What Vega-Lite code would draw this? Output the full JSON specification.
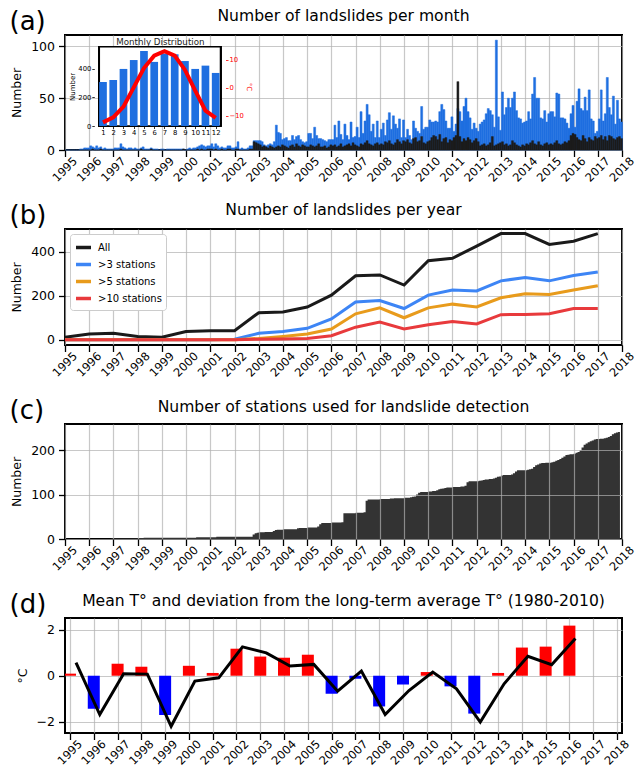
{
  "$schema": "https://vega.github.io/schema/vega-lite/v6.json",
  "background": "white",
  "padding": {"left": 8, "top": 7, "right": 0, "bottom": 0},
  "config": {
    "font": "DejaVu Sans",
    "view": {"stroke": "#000000", "strokeWidth": 2},
    "axis": {"domain": false, "labelFont": "DejaVu Sans", "labelFontSize": 12.5, "labelColor": "#000000", "tickColor": "#000000", "tickSize": 6.5, "tickWidth": 1.3, "labelPadding": 4, "gridColor": "#b0b0b0", "gridOpacity": 0.7, "gridWidth": 1.2, "titleFont": "DejaVu Sans", "titleFontWeight": "normal", "titleFontSize": 12.5, "titleColor": "#000000", "titlePadding": 7, "labelFlush": false, "labelOverlap": false},
    "axisX": {"labelAngle": -45},
    "title": {"font": "DejaVu Sans", "fontSize": 15.6, "fontWeight": "normal", "color": "#000000"},
    "legend": {"labelFont": "DejaVu Sans"}
  },
  "datasets": {
    "monthly": [
      {"date":"1995-01-01","all":0,"big":0,"stations":0},{"date":"1995-02-01","all":0,"big":0,"stations":0},{"date":"1995-03-01","all":0,"big":0,"stations":0},{"date":"1995-04-01","all":0,"big":0,"stations":0},{"date":"1995-05-01","all":0,"big":0,"stations":0},{"date":"1995-06-01","all":0,"big":0,"stations":0},{"date":"1995-07-01","all":0,"big":0,"stations":0},{"date":"1995-08-01","all":1,"big":0,"stations":0},{"date":"1995-09-01","all":1,"big":0,"stations":0},{"date":"1995-10-01","all":2,"big":0,"stations":0},{"date":"1995-11-01","all":2,"big":0,"stations":0},{"date":"1995-12-01","all":2,"big":0,"stations":0},
      {"date":"1996-01-01","all":4,"big":0,"stations":0},{"date":"1996-02-01","all":3,"big":1,"stations":0},{"date":"1996-03-01","all":2,"big":0,"stations":0},{"date":"1996-04-01","all":4,"big":0,"stations":0},{"date":"1996-05-01","all":2,"big":0,"stations":0},{"date":"1996-06-01","all":3,"big":1,"stations":0},{"date":"1996-07-01","all":1,"big":0,"stations":0},{"date":"1996-08-01","all":2,"big":0,"stations":0},{"date":"1996-09-01","all":1,"big":0,"stations":0},{"date":"1996-10-01","all":1,"big":0,"stations":0},{"date":"1996-11-01","all":1,"big":0,"stations":0},{"date":"1996-12-01","all":1,"big":0,"stations":1},
      {"date":"1997-01-01","all":2,"big":0,"stations":1},{"date":"1997-02-01","all":2,"big":0,"stations":1},{"date":"1997-03-01","all":2,"big":0,"stations":1},{"date":"1997-04-01","all":6,"big":1,"stations":1},{"date":"1997-05-01","all":3,"big":0,"stations":1},{"date":"1997-06-01","all":2,"big":0,"stations":1},{"date":"1997-07-01","all":1,"big":0,"stations":1},{"date":"1997-08-01","all":2,"big":0,"stations":1},{"date":"1997-09-01","all":2,"big":0,"stations":1},{"date":"1997-10-01","all":1,"big":0,"stations":1},{"date":"1997-11-01","all":2,"big":0,"stations":1},{"date":"1997-12-01","all":1,"big":0,"stations":1},
      {"date":"1998-01-01","all":1,"big":0,"stations":2},{"date":"1998-02-01","all":2,"big":1,"stations":2},{"date":"1998-03-01","all":3,"big":0,"stations":2},{"date":"1998-04-01","all":1,"big":0,"stations":3},{"date":"1998-05-01","all":1,"big":0,"stations":3},{"date":"1998-06-01","all":1,"big":0,"stations":3},{"date":"1998-07-01","all":2,"big":1,"stations":3},{"date":"1998-08-01","all":1,"big":0,"stations":3},{"date":"1998-09-01","all":1,"big":0,"stations":3},{"date":"1998-10-01","all":1,"big":0,"stations":3},{"date":"1998-11-01","all":0,"big":0,"stations":3},{"date":"1998-12-01","all":1,"big":0,"stations":3},
      {"date":"1999-01-01","all":1,"big":0,"stations":3},{"date":"1999-02-01","all":0,"big":0,"stations":3},{"date":"1999-03-01","all":1,"big":0,"stations":3},{"date":"1999-04-01","all":1,"big":0,"stations":3},{"date":"1999-05-01","all":1,"big":0,"stations":3},{"date":"1999-06-01","all":1,"big":0,"stations":3},{"date":"1999-07-01","all":1,"big":0,"stations":3},{"date":"1999-08-01","all":1,"big":0,"stations":3},{"date":"1999-09-01","all":1,"big":0,"stations":3},{"date":"1999-10-01","all":1,"big":0,"stations":3},{"date":"1999-11-01","all":1,"big":1,"stations":3},{"date":"1999-12-01","all":0,"big":0,"stations":3},
      {"date":"2000-01-01","all":1,"big":0,"stations":3},{"date":"2000-02-01","all":2,"big":0,"stations":3},{"date":"2000-03-01","all":1,"big":0,"stations":3},{"date":"2000-04-01","all":2,"big":0,"stations":3},{"date":"2000-05-01","all":2,"big":0,"stations":3},{"date":"2000-06-01","all":3,"big":1,"stations":4},{"date":"2000-07-01","all":4,"big":0,"stations":4},{"date":"2000-08-01","all":5,"big":1,"stations":4},{"date":"2000-09-01","all":4,"big":0,"stations":4},{"date":"2000-10-01","all":3,"big":0,"stations":4},{"date":"2000-11-01","all":4,"big":1,"stations":4},{"date":"2000-12-01","all":4,"big":1,"stations":4},
      {"date":"2001-01-01","all":6,"big":1,"stations":4},{"date":"2001-02-01","all":3,"big":0,"stations":4},{"date":"2001-03-01","all":6,"big":1,"stations":4},{"date":"2001-04-01","all":4,"big":0,"stations":5},{"date":"2001-05-01","all":2,"big":0,"stations":5},{"date":"2001-06-01","all":3,"big":1,"stations":5},{"date":"2001-07-01","all":2,"big":0,"stations":5},{"date":"2001-08-01","all":2,"big":0,"stations":5},{"date":"2001-09-01","all":4,"big":1,"stations":5},{"date":"2001-10-01","all":4,"big":1,"stations":5},{"date":"2001-11-01","all":2,"big":0,"stations":5},{"date":"2001-12-01","all":2,"big":0,"stations":5},
      {"date":"2002-01-01","all":3,"big":1,"stations":5},{"date":"2002-02-01","all":8,"big":1,"stations":5},{"date":"2002-03-01","all":1,"big":0,"stations":5},{"date":"2002-04-01","all":2,"big":0,"stations":5},{"date":"2002-05-01","all":1,"big":0,"stations":5},{"date":"2002-06-01","all":1,"big":0,"stations":5},{"date":"2002-07-01","all":2,"big":0,"stations":5},{"date":"2002-08-01","all":4,"big":1,"stations":5},{"date":"2002-09-01","all":4,"big":1,"stations":5},{"date":"2002-10-01","all":9,"big":8,"stations":10},{"date":"2002-11-01","all":9,"big":7,"stations":13},{"date":"2002-12-01","all":9,"big":6,"stations":14},
      {"date":"2003-01-01","all":9,"big":5,"stations":15},{"date":"2003-02-01","all":8,"big":3,"stations":15},{"date":"2003-03-01","all":5,"big":4,"stations":15},{"date":"2003-04-01","all":4,"big":3,"stations":16},{"date":"2003-05-01","all":5,"big":2,"stations":16},{"date":"2003-06-01","all":6,"big":4,"stations":16},{"date":"2003-07-01","all":5,"big":3,"stations":16},{"date":"2003-08-01","all":8,"big":2,"stations":18},{"date":"2003-09-01","all":24,"big":3,"stations":20},{"date":"2003-10-01","all":17,"big":4,"stations":21},{"date":"2003-11-01","all":16,"big":3,"stations":21},{"date":"2003-12-01","all":10,"big":5,"stations":21},
      {"date":"2004-01-01","all":11,"big":4,"stations":22},{"date":"2004-02-01","all":12,"big":3,"stations":22},{"date":"2004-03-01","all":9,"big":2,"stations":22},{"date":"2004-04-01","all":9,"big":4,"stations":22},{"date":"2004-05-01","all":14,"big":5,"stations":22},{"date":"2004-06-01","all":10,"big":3,"stations":22},{"date":"2004-07-01","all":13,"big":6,"stations":22},{"date":"2004-08-01","all":14,"big":4,"stations":24},{"date":"2004-09-01","all":10,"big":3,"stations":25},{"date":"2004-10-01","all":8,"big":5,"stations":25},{"date":"2004-11-01","all":7,"big":4,"stations":25},{"date":"2004-12-01","all":8,"big":3,"stations":25},
      {"date":"2005-01-01","all":16,"big":3,"stations":26},{"date":"2005-02-01","all":16,"big":5,"stations":26},{"date":"2005-03-01","all":11,"big":4,"stations":26},{"date":"2005-04-01","all":22,"big":3,"stations":26},{"date":"2005-05-01","all":14,"big":4,"stations":26},{"date":"2005-06-01","all":11,"big":6,"stations":28},{"date":"2005-07-01","all":11,"big":3,"stations":33},{"date":"2005-08-01","all":10,"big":3,"stations":36},{"date":"2005-09-01","all":9,"big":4,"stations":36},{"date":"2005-10-01","all":8,"big":2,"stations":36},{"date":"2005-11-01","all":10,"big":3,"stations":36},{"date":"2005-12-01","all":10,"big":5,"stations":36},
      {"date":"2006-01-01","all":10,"big":4,"stations":37},{"date":"2006-02-01","all":24,"big":5,"stations":37},{"date":"2006-03-01","all":12,"big":3,"stations":37},{"date":"2006-04-01","all":28,"big":4,"stations":37},{"date":"2006-05-01","all":15,"big":6,"stations":37},{"date":"2006-06-01","all":10,"big":3,"stations":38},{"date":"2006-07-01","all":25,"big":4,"stations":58},{"date":"2006-08-01","all":14,"big":5,"stations":58},{"date":"2006-09-01","all":10,"big":6,"stations":58},{"date":"2006-10-01","all":27,"big":4,"stations":58},{"date":"2006-11-01","all":12,"big":7,"stations":58},{"date":"2006-12-01","all":13,"big":5,"stations":58},
      {"date":"2007-01-01","all":22,"big":4,"stations":59},{"date":"2007-02-01","all":12,"big":3,"stations":59},{"date":"2007-03-01","all":37,"big":6,"stations":59},{"date":"2007-04-01","all":16,"big":5,"stations":59},{"date":"2007-05-01","all":28,"big":7,"stations":60},{"date":"2007-06-01","all":44,"big":9,"stations":86},{"date":"2007-07-01","all":34,"big":6,"stations":89},{"date":"2007-08-01","all":18,"big":5,"stations":89},{"date":"2007-09-01","all":25,"big":4,"stations":89},{"date":"2007-10-01","all":12,"big":6,"stations":89},{"date":"2007-11-01","all":28,"big":7,"stations":89},{"date":"2007-12-01","all":12,"big":5,"stations":89},
      {"date":"2008-01-01","all":20,"big":6,"stations":90},{"date":"2008-02-01","all":26,"big":5,"stations":90},{"date":"2008-03-01","all":14,"big":8,"stations":90},{"date":"2008-04-01","all":29,"big":7,"stations":90},{"date":"2008-05-01","all":36,"big":9,"stations":90},{"date":"2008-06-01","all":20,"big":6,"stations":91},{"date":"2008-07-01","all":33,"big":5,"stations":91},{"date":"2008-08-01","all":25,"big":7,"stations":92},{"date":"2008-09-01","all":21,"big":10,"stations":92},{"date":"2008-10-01","all":30,"big":8,"stations":92},{"date":"2008-11-01","all":12,"big":6,"stations":92},{"date":"2008-12-01","all":29,"big":9,"stations":92},
      {"date":"2009-01-01","all":12,"big":8,"stations":93},{"date":"2009-02-01","all":20,"big":10,"stations":93},{"date":"2009-03-01","all":14,"big":7,"stations":93},{"date":"2009-04-01","all":10,"big":6,"stations":94},{"date":"2009-05-01","all":28,"big":11,"stations":95},{"date":"2009-06-01","all":21,"big":12,"stations":96},{"date":"2009-07-01","all":18,"big":8,"stations":100},{"date":"2009-08-01","all":16,"big":9,"stations":104},{"date":"2009-09-01","all":42,"big":13,"stations":106},{"date":"2009-10-01","all":20,"big":7,"stations":106},{"date":"2009-11-01","all":22,"big":6,"stations":106},{"date":"2009-12-01","all":22,"big":8,"stations":106},
      {"date":"2010-01-01","all":29,"big":9,"stations":107},{"date":"2010-02-01","all":27,"big":12,"stations":107},{"date":"2010-03-01","all":27,"big":14,"stations":108},{"date":"2010-04-01","all":28,"big":13,"stations":108},{"date":"2010-05-01","all":27,"big":10,"stations":110},{"date":"2010-06-01","all":37,"big":15,"stations":112},{"date":"2010-07-01","all":44,"big":8,"stations":113},{"date":"2010-08-01","all":39,"big":11,"stations":114},{"date":"2010-09-01","all":28,"big":12,"stations":115},{"date":"2010-10-01","all":21,"big":7,"stations":116},{"date":"2010-11-01","all":21,"big":10,"stations":116},{"date":"2010-12-01","all":32,"big":9,"stations":116},
      {"date":"2011-01-01","all":18,"big":12,"stations":117},{"date":"2011-02-01","all":25,"big":14,"stations":117},{"date":"2011-03-01","all":40,"big":66,"stations":117},{"date":"2011-04-01","all":37,"big":13,"stations":117},{"date":"2011-05-01","all":28,"big":8,"stations":118},{"date":"2011-06-01","all":42,"big":11,"stations":118},{"date":"2011-07-01","all":50,"big":9,"stations":120},{"date":"2011-08-01","all":37,"big":12,"stations":128},{"date":"2011-09-01","all":31,"big":10,"stations":130},{"date":"2011-10-01","all":20,"big":7,"stations":130},{"date":"2011-11-01","all":26,"big":9,"stations":130},{"date":"2011-12-01","all":21,"big":11,"stations":130},
      {"date":"2012-01-01","all":18,"big":8,"stations":130},{"date":"2012-02-01","all":25,"big":4,"stations":131},{"date":"2012-03-01","all":27,"big":5,"stations":132},{"date":"2012-04-01","all":29,"big":6,"stations":133},{"date":"2012-05-01","all":35,"big":4,"stations":134},{"date":"2012-06-01","all":40,"big":5,"stations":134},{"date":"2012-07-01","all":38,"big":7,"stations":135},{"date":"2012-08-01","all":34,"big":13,"stations":135},{"date":"2012-09-01","all":22,"big":4,"stations":136},{"date":"2012-10-01","all":106,"big":5,"stations":138},{"date":"2012-11-01","all":32,"big":6,"stations":140},{"date":"2012-12-01","all":19,"big":7,"stations":141},
      {"date":"2013-01-01","all":56,"big":8,"stations":143},{"date":"2013-02-01","all":34,"big":5,"stations":144},{"date":"2013-03-01","all":41,"big":6,"stations":144},{"date":"2013-04-01","all":50,"big":4,"stations":144},{"date":"2013-05-01","all":41,"big":5,"stations":144},{"date":"2013-06-01","all":50,"big":9,"stations":145},{"date":"2013-07-01","all":56,"big":7,"stations":148},{"date":"2013-08-01","all":38,"big":5,"stations":152},{"date":"2013-09-01","all":31,"big":4,"stations":155},{"date":"2013-10-01","all":30,"big":3,"stations":155},{"date":"2013-11-01","all":26,"big":5,"stations":155},{"date":"2013-12-01","all":27,"big":4,"stations":155},
      {"date":"2014-01-01","all":28,"big":6,"stations":155},{"date":"2014-02-01","all":37,"big":5,"stations":156},{"date":"2014-03-01","all":30,"big":7,"stations":157},{"date":"2014-04-01","all":54,"big":9,"stations":158},{"date":"2014-05-01","all":70,"big":6,"stations":162},{"date":"2014-06-01","all":50,"big":5,"stations":166},{"date":"2014-07-01","all":50,"big":8,"stations":168},{"date":"2014-08-01","all":31,"big":5,"stations":170},{"date":"2014-09-01","all":30,"big":4,"stations":171},{"date":"2014-10-01","all":38,"big":6,"stations":171},{"date":"2014-11-01","all":27,"big":7,"stations":172},{"date":"2014-12-01","all":35,"big":5,"stations":172},
      {"date":"2015-01-01","all":37,"big":6,"stations":172},{"date":"2015-02-01","all":37,"big":5,"stations":173},{"date":"2015-03-01","all":32,"big":7,"stations":174},{"date":"2015-04-01","all":55,"big":9,"stations":176},{"date":"2015-05-01","all":54,"big":6,"stations":178},{"date":"2015-06-01","all":31,"big":5,"stations":180},{"date":"2015-07-01","all":31,"big":6,"stations":183},{"date":"2015-08-01","all":30,"big":8,"stations":186},{"date":"2015-09-01","all":26,"big":7,"stations":189},{"date":"2015-10-01","all":21,"big":9,"stations":190},{"date":"2015-11-01","all":35,"big":14,"stations":191},{"date":"2015-12-01","all":43,"big":16,"stations":191},
      {"date":"2016-01-01","all":22,"big":15,"stations":192},{"date":"2016-02-01","all":47,"big":12,"stations":194},{"date":"2016-03-01","all":59,"big":10,"stations":196},{"date":"2016-04-01","all":40,"big":9,"stations":200},{"date":"2016-05-01","all":38,"big":14,"stations":206},{"date":"2016-06-01","all":51,"big":11,"stations":212},{"date":"2016-07-01","all":38,"big":8,"stations":215},{"date":"2016-08-01","all":58,"big":12,"stations":218},{"date":"2016-09-01","all":30,"big":10,"stations":220},{"date":"2016-10-01","all":28,"big":9,"stations":222},{"date":"2016-11-01","all":16,"big":13,"stations":224},{"date":"2016-12-01","all":18,"big":11,"stations":225},
      {"date":"2017-01-01","all":30,"big":12,"stations":225},{"date":"2017-02-01","all":58,"big":14,"stations":226},{"date":"2017-03-01","all":28,"big":10,"stations":226},{"date":"2017-04-01","all":35,"big":13,"stations":227},{"date":"2017-05-01","all":70,"big":9,"stations":228},{"date":"2017-06-01","all":41,"big":14,"stations":230},{"date":"2017-07-01","all":34,"big":13,"stations":232},{"date":"2017-08-01","all":52,"big":11,"stations":236},{"date":"2017-09-01","all":25,"big":10,"stations":238},{"date":"2017-10-01","all":48,"big":12,"stations":240},{"date":"2017-11-01","all":30,"big":13,"stations":241},{"date":"2017-12-01","all":27,"big":11,"stations":242}
    ],
    "inset": [
      {"month":1,"n":307,"t":-12.3},{"month":2,"n":321,"t":-10.5},{"month":3,"n":398,"t":-6.7},{"month":4,"n":460,"t":0.2},{"month":5,"n":523,"t":7.1},{"month":6,"n":447,"t":11.5},{"month":7,"n":505,"t":13.1},{"month":8,"n":500,"t":11.5},{"month":9,"n":453,"t":6.4},{"month":10,"n":398,"t":-1.0},{"month":11,"n":421,"t":-8.1},{"month":12,"n":370,"t":-10.7}
    ],
    "yearly": [
      {"date":"1995-01-01","series":"All","n":11},{"date":"1996-01-01","series":"All","n":26},{"date":"1997-01-01","series":"All","n":29},{"date":"1998-01-01","series":"All","n":15},{"date":"1999-01-01","series":"All","n":11},{"date":"2000-01-01","series":"All","n":37},{"date":"2001-01-01","series":"All","n":41},{"date":"2002-01-01","series":"All","n":41},{"date":"2003-01-01","series":"All","n":123},{"date":"2004-01-01","series":"All","n":126},{"date":"2005-01-01","series":"All","n":149},{"date":"2006-01-01","series":"All","n":203},{"date":"2007-01-01","series":"All","n":291},{"date":"2008-01-01","series":"All","n":295},{"date":"2009-01-01","series":"All","n":249},{"date":"2010-01-01","series":"All","n":360},{"date":"2011-01-01","series":"All","n":371},{"date":"2012-01-01","series":"All","n":426},{"date":"2013-01-01","series":"All","n":483},{"date":"2014-01-01","series":"All","n":483},{"date":"2015-01-01","series":"All","n":434},{"date":"2016-01-01","series":"All","n":448},{"date":"2017-01-01","series":"All","n":483},
      {"date":"1995-01-01","series":">3 stations","n":0},{"date":"1996-01-01","series":">3 stations","n":0},{"date":"1997-01-01","series":">3 stations","n":0},{"date":"1998-01-01","series":">3 stations","n":0},{"date":"1999-01-01","series":">3 stations","n":0},{"date":"2000-01-01","series":">3 stations","n":0},{"date":"2001-01-01","series":">3 stations","n":0},{"date":"2002-01-01","series":">3 stations","n":2},{"date":"2003-01-01","series":">3 stations","n":29},{"date":"2004-01-01","series":">3 stations","n":37},{"date":"2005-01-01","series":">3 stations","n":52},{"date":"2006-01-01","series":">3 stations","n":95},{"date":"2007-01-01","series":">3 stations","n":172},{"date":"2008-01-01","series":">3 stations","n":178},{"date":"2009-01-01","series":">3 stations","n":142},{"date":"2010-01-01","series":">3 stations","n":203},{"date":"2011-01-01","series":">3 stations","n":226},{"date":"2012-01-01","series":">3 stations","n":222},{"date":"2013-01-01","series":">3 stations","n":268},{"date":"2014-01-01","series":">3 stations","n":283},{"date":"2015-01-01","series":">3 stations","n":268},{"date":"2016-01-01","series":">3 stations","n":292},{"date":"2017-01-01","series":">3 stations","n":308},
      {"date":"1995-01-01","series":">5 stations","n":0},{"date":"1996-01-01","series":">5 stations","n":0},{"date":"1997-01-01","series":">5 stations","n":0},{"date":"1998-01-01","series":">5 stations","n":0},{"date":"1999-01-01","series":">5 stations","n":0},{"date":"2000-01-01","series":">5 stations","n":0},{"date":"2001-01-01","series":">5 stations","n":0},{"date":"2002-01-01","series":">5 stations","n":0},{"date":"2003-01-01","series":">5 stations","n":6},{"date":"2004-01-01","series":">5 stations","n":15},{"date":"2005-01-01","series":">5 stations","n":26},{"date":"2006-01-01","series":">5 stations","n":49},{"date":"2007-01-01","series":">5 stations","n":118},{"date":"2008-01-01","series":">5 stations","n":145},{"date":"2009-01-01","series":">5 stations","n":100},{"date":"2010-01-01","series":">5 stations","n":145},{"date":"2011-01-01","series":">5 stations","n":162},{"date":"2012-01-01","series":">5 stations","n":149},{"date":"2013-01-01","series":">5 stations","n":191},{"date":"2014-01-01","series":">5 stations","n":209},{"date":"2015-01-01","series":">5 stations","n":206},{"date":"2016-01-01","series":">5 stations","n":226},{"date":"2017-01-01","series":">5 stations","n":246},
      {"date":"1995-01-01","series":">10 stations","n":0},{"date":"1996-01-01","series":">10 stations","n":0},{"date":"1997-01-01","series":">10 stations","n":0},{"date":"1998-01-01","series":">10 stations","n":0},{"date":"1999-01-01","series":">10 stations","n":0},{"date":"2000-01-01","series":">10 stations","n":0},{"date":"2001-01-01","series":">10 stations","n":0},{"date":"2002-01-01","series":">10 stations","n":0},{"date":"2003-01-01","series":">10 stations","n":2},{"date":"2004-01-01","series":">10 stations","n":3},{"date":"2005-01-01","series":">10 stations","n":6},{"date":"2006-01-01","series":">10 stations","n":18},{"date":"2007-01-01","series":">10 stations","n":57},{"date":"2008-01-01","series":">10 stations","n":80},{"date":"2009-01-01","series":">10 stations","n":49},{"date":"2010-01-01","series":">10 stations","n":68},{"date":"2011-01-01","series":">10 stations","n":83},{"date":"2012-01-01","series":">10 stations","n":72},{"date":"2013-01-01","series":">10 stations","n":114},{"date":"2014-01-01","series":">10 stations","n":115},{"date":"2015-01-01","series":">10 stations","n":118},{"date":"2016-01-01","series":">10 stations","n":142},{"date":"2017-01-01","series":">10 stations","n":142}
    ],
    "temp": [
      {"date":"1995-01-01","dev":0.09,"mean":0.57},{"date":"1996-01-01","dev":-1.43,"mean":-1.68},{"date":"1997-01-01","dev":0.52,"mean":0.09},{"date":"1998-01-01","dev":0.39,"mean":0.07},{"date":"1999-01-01","dev":-1.70,"mean":-2.19},{"date":"2000-01-01","dev":0.43,"mean":-0.23},{"date":"2001-01-01","dev":0.12,"mean":-0.09},{"date":"2002-01-01","dev":1.17,"mean":1.25},{"date":"2003-01-01","dev":0.83,"mean":0.99},{"date":"2004-01-01","dev":0.78,"mean":0.42},{"date":"2005-01-01","dev":0.91,"mean":0.49},{"date":"2006-01-01","dev":-0.78,"mean":-0.67},{"date":"2007-01-01","dev":-0.13,"mean":0.20},{"date":"2008-01-01","dev":-1.33,"mean":-1.68},{"date":"2009-01-01","dev":-0.38,"mean":-0.64},{"date":"2010-01-01","dev":0.16,"mean":0.16},{"date":"2011-01-01","dev":-0.46,"mean":-0.57},{"date":"2012-01-01","dev":-1.64,"mean":-2.01},{"date":"2013-01-01","dev":0.12,"mean":-0.35},{"date":"2014-01-01","dev":1.22,"mean":0.84},{"date":"2015-01-01","dev":1.26,"mean":0.48},{"date":"2016-01-01","dev":2.17,"mean":1.61}
    ]
  },
  "spacing": 79,
  "bounds": "flush",
  "resolve": {"legend": {"color": "independent"}},
  "vconcat": [
    {
      "title": {"text": "Number of landslides per month", "offset": -17},
      "width": 557,
      "height": 115,
      "layer": [
        {
          "data": {"name": "monthly"},
          "layer": [
            {
              "mark": {"type": "bar", "color": "#1f6fe0", "stroke": "#1f6fe0", "strokeWidth": 0.5, "binSpacing": 0, "timeUnitBandSize": 1, "timeUnitBandPosition": 0},
              "encoding": {
                "x": {"field": "date", "type": "temporal", "timeUnit": "utcyearmonth",
                  "scale": {"type": "utc", "domain": [{"year": 1995, "month": 1, "date": 1, "utc": true}, {"year": 2018, "month": 1, "date": 1, "utc": true}]},
                  "axis": {"tickCount": {"interval": "year", "step": 1}, "labelExpr": "utcFormat(datum.value, '%Y')", "labelFontSize": 11.5, "labelAngle": -45, "labelAlign": "center", "labelBaseline": "middle", "labelPadding": 13, "grid": true, "title": "(a)", "titleFontSize": 26, "titleX": -56, "titleY": -121, "titleAlign": "left", "titleBaseline": "alphabetic", "titleAngle": 0}},
                "y": {"field": "all", "type": "quantitative", "title": "Number", "scale": {"domain": [0, 111], "nice": false}, "axis": {"values": [0, 50, 100], "grid": true}}
              }
            },
            {
              "mark": {"type": "bar", "color": "#1c1c1c", "stroke": "#1c1c1c", "strokeWidth": 0.4, "binSpacing": 0, "timeUnitBandSize": 1, "timeUnitBandPosition": 0},
              "encoding": {
                "x": {"field": "date", "type": "temporal", "timeUnit": "utcyearmonth"},
                "y": {"field": "big", "type": "quantitative", "title": "Number"}
              }
            }
          ]
        },
        {
          "data": {"name": "inset"},
          "layer": [
            {
              "layer": [
                {
                  "mark": {"type": "rect", "fill": "white", "stroke": "black", "strokeWidth": 1.5},
                  "encoding": {
                    "x": {"datum": 0.64, "type": "quantitative"},
                    "x2": {"datum": 12.47},
                    "y": {"datum": 0, "type": "quantitative"},
                    "y2": {"datum": 553}
                  }
                },
                {
                  "mark": {"type": "bar", "color": "#1f6fe0", "width": 7.7},
                  "encoding": {
                    "x": {"field": "month", "type": "quantitative",
                      "scale": {"domain": [0.64, 12.47], "range": [29.3, 160.5], "nice": false, "zero": false},
                      "axis": {"orient": "bottom", "offset": -24, "values": [1,2,3,4,5,6,7,8,9,10,11,12], "labelAngle": 0, "labelAlign": "center", "labelBaseline": "top", "labelFontSize": 6.8, "tickSize": 2.5, "tickWidth": 0.8, "labelPadding": 1, "grid": false, "title": "Monthly Distribution", "titleFontSize": 8.7, "titleColor": "#222222", "titleX": 94.9, "titleY": -81.5, "titleAlign": "center", "titleBaseline": "alphabetic", "titleAngle": 0}},
                    "y": {"field": "n", "type": "quantitative",
                      "scale": {"domain": [0, 553], "range": [91, 11.7], "nice": false},
                      "axis": {"orient": "left", "offset": -29.3, "values": [0, 200, 400], "labelFontSize": 6.8, "tickSize": 2.5, "tickWidth": 0.8, "labelPadding": 1, "grid": false, "title": "Number", "titleFontSize": 7, "titlePadding": 2}}
                  }
                }
              ]
            },
            {
              "mark": {"type": "line", "color": "#ff0000", "strokeWidth": 4},
              "encoding": {
                "x": {"field": "month", "type": "quantitative"},
                "y": {"field": "t", "type": "quantitative",
                  "scale": {"domain": [-13.6, 14.7], "range": [91, 11.7], "nice": false, "zero": false},
                  "axis": {"orient": "right", "offset": -396.5, "values": [-10, 0, 10], "labelFontSize": 6.8, "labelColor": "#ff0000", "tickColor": "#ff0000", "tickSize": 2.5, "tickWidth": 0.8, "labelPadding": 1, "grid": false, "title": "°C", "titleColor": "#ff0000", "titleFontSize": 7, "titlePadding": 2}}
              }
            }
          ],
          "resolve": {"scale": {"y": "independent"}}
        }
      ],
      "resolve": {"scale": {"x": "independent", "y": "independent"}}
    },
    {
      "title": {"text": "Number of landslides per year", "offset": -17},
      "width": 557,
      "height": 116,
      "data": {"name": "yearly"},
      "mark": {"type": "line", "strokeWidth": 3},
      "encoding": {
        "x": {"field": "date", "type": "temporal",
          "scale": {"type": "utc", "domain": [{"year": 1995, "month": 1, "date": 1, "utc": true}, {"year": 2018, "month": 1, "date": 1, "utc": true}]},
          "axis": {"tickCount": {"interval": "year", "step": 1}, "labelExpr": "utcFormat(datum.value, '%Y')", "labelFontSize": 11.5, "labelAngle": -45, "labelAlign": "center", "labelBaseline": "middle", "labelPadding": 13, "grid": true, "title": "(b)", "titleFontSize": 26, "titleX": -56, "titleY": -122, "titleAlign": "left", "titleBaseline": "alphabetic", "titleAngle": 0}},
        "y": {"field": "n", "type": "quantitative", "title": "Number", "scale": {"domain": [-24, 504], "nice": false, "zero": false}, "axis": {"values": [0, 200, 400], "grid": true}},
        "color": {"field": "series", "type": "nominal",
          "scale": {"domain": ["All", ">3 stations", ">5 stations", ">10 stations"], "range": ["#1a1a1a", "#3d85f5", "#e89b1c", "#e83a3c"]},
          "legend": {"title": null, "orient": "top-left", "offset": 5, "fillColor": "white", "strokeColor": "#cccccc", "padding": 4, "cornerRadius": 3, "symbolType": "stroke", "symbolStrokeWidth": 3.5, "symbolSize": 225, "labelFontSize": 10, "labelColor": "#000000", "rowPadding": 0, "labelOffset": 5}}
      }
    },
    {
      "title": {"text": "Number of stations used for landslide detection", "offset": -19},
      "width": 557,
      "height": 115,
      "data": {"name": "monthly"},
      "mark": {"type": "area", "color": "#333333", "interpolate": "step-after"},
      "encoding": {
        "x": {"field": "date", "type": "temporal",
          "scale": {"type": "utc", "domain": [{"year": 1995, "month": 1, "date": 1, "utc": true}, {"year": 2018, "month": 1, "date": 1, "utc": true}]},
          "axis": {"zindex": 1, "tickCount": {"interval": "year", "step": 1}, "labelExpr": "utcFormat(datum.value, '%Y')", "labelFontSize": 11.5, "labelAngle": -45, "labelAlign": "center", "labelBaseline": "middle", "labelPadding": 13, "grid": true, "title": "(c)", "titleFontSize": 26, "titleX": -56, "titleY": -121, "titleAlign": "left", "titleBaseline": "alphabetic", "titleAngle": 0}},
        "y": {"field": "stations", "type": "quantitative", "title": "Number", "scale": {"domain": [0, 259], "nice": false}, "axis": {"zindex": 1, "values": [0, 100, 200], "grid": true}}
      }
    },
    {
      "title": {"text": "Mean T° and deviation from the long-term average T° (1980-2010)", "offset": -19},
      "width": 557,
      "height": 115,
      "data": {"name": "temp"},
      "layer": [
        {
          "mark": {"type": "bar", "width": 12, "clip": true},
          "encoding": {
            "x": {"field": "date", "type": "temporal",
              "scale": {"type": "utc", "domain": [{"year": 1995, "month": 1, "date": 1, "utc": true}, {"year": 2018, "month": 1, "date": 1, "utc": true}]},
              "axis": {"tickCount": {"interval": "year", "step": 1}, "labelExpr": "utcFormat(datum.value, '%Y')", "labelFontSize": 11.5, "labelAngle": -45, "labelAlign": "center", "labelBaseline": "middle", "labelPadding": 13, "grid": true, "title": "(d)", "titleFontSize": 26, "titleX": -56, "titleY": -121, "titleAlign": "left", "titleBaseline": "alphabetic", "titleAngle": 0}},
            "y": {"field": "dev", "type": "quantitative", "title": "°C", "scale": {"domain": [-2.48, 2.5], "nice": false, "zero": false}, "axis": {"values": [-2, 0, 2], "grid": true}},
            "y2": {"datum": 0},
            "color": {"condition": {"test": "datum.dev > 0", "value": "#ff0000"}, "value": "#0000ff"}
          }
        },
        {
          "mark": {"type": "line", "color": "#000000", "strokeWidth": 3, "xOffset": 6},
          "encoding": {
            "x": {"field": "date", "type": "temporal"},
            "y": {"field": "mean", "type": "quantitative", "title": "°C"}
          }
        }
      ]
    }
  ]
}
